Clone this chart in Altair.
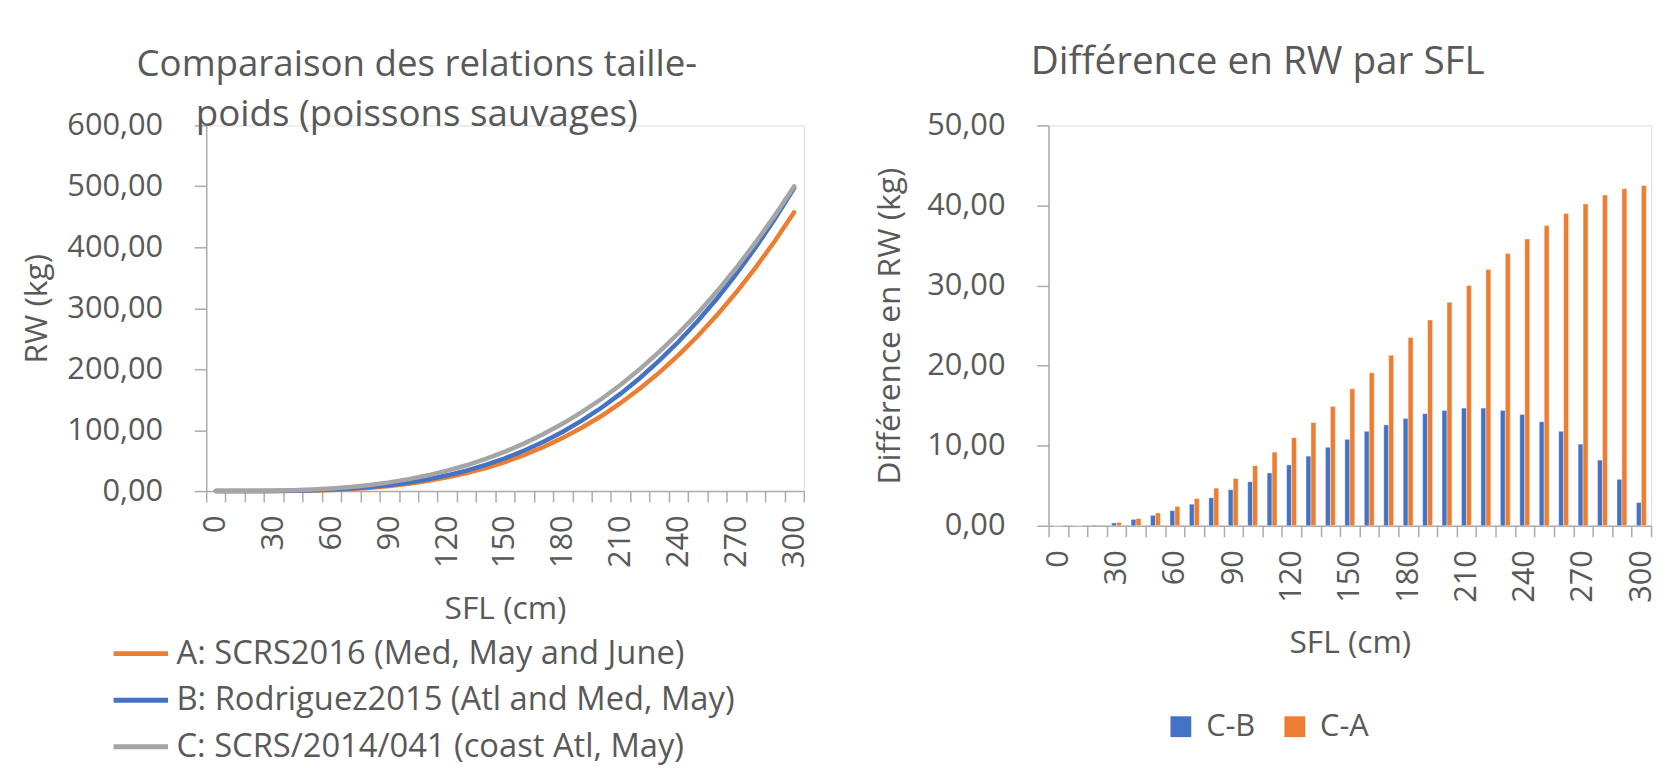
import altair as alt
import pandas as pd

# ---- data ----
sfl = [0, 10, 20, 30, 40, 50, 60, 70, 80, 90, 100, 110, 120, 130, 140, 150,
       160, 170, 180, 190, 200, 210, 220, 230, 240, 250, 260, 270, 280, 290, 300]

rw_a = [0, 0.01, 0.07, 0.16, 0.41, 0.93, 1.93, 3.43, 5.4, 8.4, 12.1, 16.7, 22.5,
        29.5, 37.9, 47.6, 59.2, 72.3, 87.3, 104.3, 123.2, 144.6, 168.3, 194.4,
        223.1, 254.5, 288.8, 326.2, 366.7, 410.3, 457.5]
rw_b = [0, 0.01, 0.07, 0.21, 0.51, 1.23, 2.43, 4.13, 6.6, 9.8, 14.1, 19.3, 25.9,
        33.7, 43.0, 53.9, 66.5, 81.0, 97.4, 116.0, 136.7, 159.9, 185.6, 214.0,
        245.0, 279.0, 316.0, 356.2, 399.8, 446.6, 497.1]
rw_c = [0, 0.02, 0.17, 0.56, 1.31, 2.53, 4.33, 6.83, 10.1, 14.3, 19.6, 25.9, 33.5,
        42.4, 52.8, 64.7, 78.3, 93.6, 110.8, 130.0, 151.1, 174.6, 200.3, 228.4,
        258.9, 292.0, 327.8, 366.4, 408.0, 452.4, 500.0]

diff_cb = [0, 0.01, 0.1, 0.35, 0.8, 1.3, 1.9, 2.7, 3.5, 4.5, 5.5, 6.6, 7.6, 8.7,
           9.8, 10.8, 11.8, 12.6, 13.4, 14.0, 14.4, 14.7, 14.7, 14.4, 13.9, 13.0,
           11.8, 10.2, 8.2, 5.8, 2.9]
diff_ca = [0, 0.01, 0.1, 0.4, 0.9, 1.6, 2.4, 3.4, 4.7, 5.9, 7.5, 9.2, 11.0, 12.9,
           14.9, 17.1, 19.1, 21.3, 23.5, 25.7, 27.9, 30.0, 32.0, 34.0, 35.8, 37.5,
           39.0, 40.2, 41.3, 42.1, 42.5]

series_names = ["A: SCRS2016 (Med, May and June)",
                "B: Rodriguez2015 (Atl and Med, May)",
                "C: SCRS/2014/041 (coast Atl, May)"]
series_colors = ["#ED7D31", "#4472C4", "#A5A5A5"]
diff_names = ["C-B", "C-A"]
diff_colors = ["#4472C4", "#ED7D31"]

left_title = ["Comparaison des relations taille-", "poids (poissons sauvages)"]
right_title = "Différence en RW par SFL"

# ---- tables ----
rows = []
for name, vals in zip(series_names, [rw_a, rw_b, rw_c]):
    for s, v in zip(sfl, vals):
        rows.append({"SFL": s, "RW": v, "Serie": name})
df_lines = pd.DataFrame(rows)

rows = []
for name, vals in zip(diff_names, [diff_cb, diff_ca]):
    for s, v in zip(sfl, vals):
        rows.append({"SFL": s, "Diff": v, "Serie": name})
df_bars = pd.DataFrame(rows)

FONT = "Open Sans"
TXT = "#595959"
AX = "#ABABAB"

comma_expr = "replace(format(datum.value, '.2f'), '.', ',')"
x_label_expr = "datum.value % 30 == 0 ? '' + datum.value : ''"

def x_axis():
    return alt.Axis(
        title="SFL (cm)", tickBand="extent", labelExpr=x_label_expr,
        labelAngle=270, labelFontSize=31, labelColor=TXT, labelFont=FONT,
        labelPadding=13, tickSize=11, tickColor=AX, tickWidth=1.5,
        domainColor=AX, domainWidth=1.5, titleFontSize=32, titleColor=TXT,
        titleFont=FONT, titleFontWeight="normal", titlePadding=26, grid=False,
    )

def y_axis(title, values, tpad):
    return alt.Axis(
        title=title, values=values, labelExpr=comma_expr, labelFontSize=31,
        labelColor=TXT, labelFont=FONT, labelPadding=32, tickSize=12,
        tickColor=AX, tickWidth=1.5, domainColor=AX, domainWidth=1.5,
        titleFontSize=32, titleColor=TXT, titleFont=FONT,
        titleFontWeight="normal", titlePadding=tpad, grid=False,
    )

band = alt.Scale(type="band", paddingInner=0, paddingOuter=0)

left = alt.Chart(df_lines).mark_line(strokeWidth=4.5, strokeCap="round").encode(
    x=alt.X("SFL:O", sort=sfl, scale=band, axis=x_axis()),
    y=alt.Y("RW:Q", scale=alt.Scale(domain=[0, 600]),
            axis=y_axis("RW (kg)", [0, 100, 200, 300, 400, 500, 600], 13)),
    color=alt.Color("Serie:N", scale=alt.Scale(domain=series_names, range=series_colors),
                    legend=alt.Legend(title=None, orient="none", legendX=-96, legendY=503,
                                      direction="vertical", symbolType="stroke",
                                      symbolSize=3025, symbolStrokeWidth=5,
                                      labelFontSize=33, labelFont=FONT, labelColor=TXT,
                                      labelOffset=6, rowPadding=-4, labelLimit=800)),
).properties(
    width=603, height=369,
    title=alt.TitleParams(left_title, fontSize=37, font=FONT, color=TXT,
                          fontWeight="normal", anchor="middle", dx=-89,
                          lineHeight=51, offset=-25),
)

right = alt.Chart(df_bars).mark_bar(stroke="#ffffff", strokeWidth=0.8, strokeOpacity=0.5).encode(
    x=alt.X("SFL:O", sort=sfl, scale=band, axis=x_axis()),
    xOffset=alt.XOffset("Serie:N", sort=diff_names,
                        scale=alt.Scale(paddingOuter=0.96, paddingInner=0)),
    y=alt.Y("Diff:Q", scale=alt.Scale(domain=[0, 50]),
            axis=y_axis("Différence en RW (kg)", [0, 10, 20, 30, 40, 50], 20)),
    color=alt.Color("Serie:N", sort=diff_names,
                    scale=alt.Scale(domain=diff_names, range=diff_colors),
                    legend=alt.Legend(title=None, orient="none", legendX=118, legendY=591,
                                      direction="horizontal", symbolType="square",
                                      symbolSize=441, symbolStrokeWidth=0,
                                      labelFontSize=31, labelFont=FONT, labelColor=TXT,
                                      labelOffset=10, columnPadding=24)),
).properties(
    width=608, height=404,
    title=alt.TitleParams(right_title, fontSize=39, font=FONT, color=TXT,
                          fontWeight="normal", anchor="middle", dx=-93, offset=28),
)

chart = alt.hconcat(left, right, spacing=64).resolve_scale(
    color="independent", x="independent", y="independent"
).configure_view(stroke=None).configure(
    padding={"left": 12, "top": 31, "right": 5, "bottom": 5}
)

chart.save("out.html", embed_options={"renderer": "svg", "actions": False})
